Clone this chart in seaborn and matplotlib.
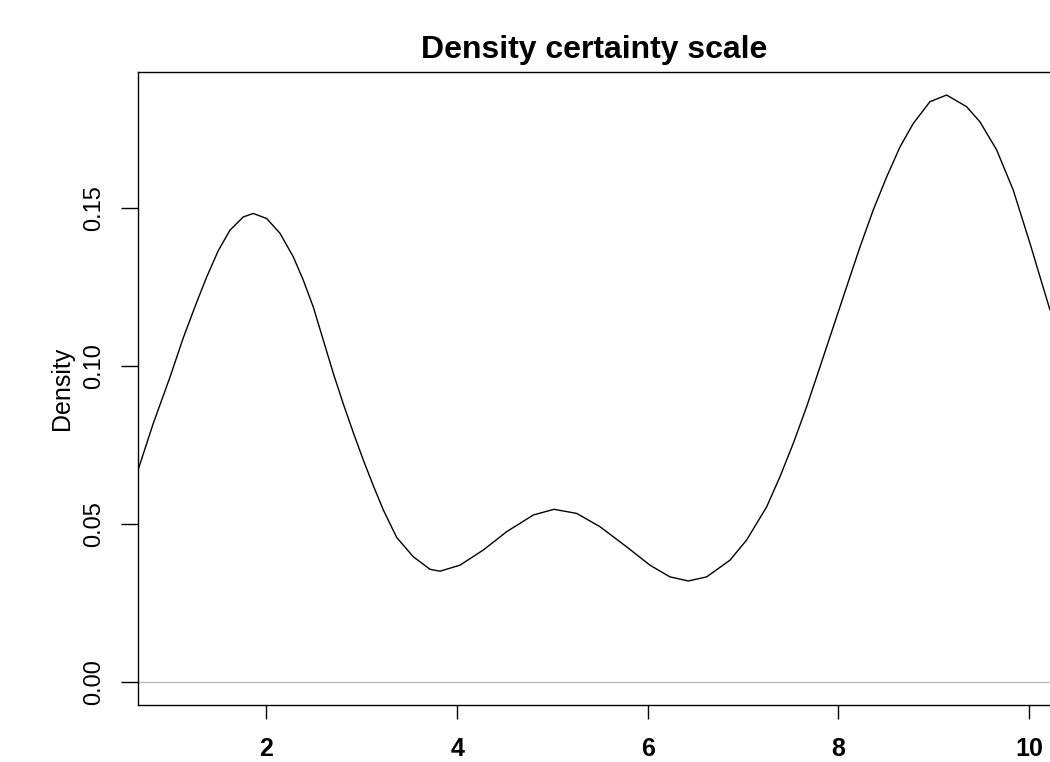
import matplotlib
matplotlib.use("Agg")
import matplotlib.pyplot as plt
import seaborn as sns
import pandas as pd

# Curve (x = certainty scale value, y = density)
curve_x = [0.652, 0.812, 0.987, 1.127, 1.268, 1.373, 1.494, 1.617, 1.757, 1.861,
           2.002, 2.142, 2.281, 2.386, 2.491, 2.596, 2.701, 2.806, 2.911, 3.016,
           3.121, 3.226, 3.366, 3.540, 3.716, 3.821, 4.030, 4.275, 4.520, 4.800,
           5.017, 5.255, 5.499, 5.780, 6.024, 6.234, 6.426, 6.619, 6.864, 7.039,
           7.249, 7.388, 7.528, 7.668, 7.808, 7.948, 8.088, 8.228, 8.367, 8.508,
           8.648, 8.787, 8.962, 9.137, 9.347, 9.487, 9.662, 9.836, 10.012, 10.117,
           10.222]
curve_y = [0.0671, 0.0819, 0.0965, 0.1090, 0.1203, 0.1283, 0.1366, 0.1431, 0.1473, 0.1484,
           0.1468, 0.1421, 0.1347, 0.1273, 0.1188, 0.1083, 0.0978, 0.0881, 0.0790, 0.0703,
           0.0622, 0.0545, 0.0458, 0.0397, 0.0357, 0.0351, 0.0370, 0.0418, 0.0476, 0.0529,
           0.0547, 0.0534, 0.0492, 0.0428, 0.0370, 0.0333, 0.0320, 0.0333, 0.0386, 0.0450,
           0.0555, 0.0650, 0.0756, 0.0872, 0.0998, 0.1125, 0.1252, 0.1378, 0.1495, 0.1600,
           0.1695, 0.1769, 0.1838, 0.1859, 0.1822, 0.1774, 0.1685, 0.1558, 0.1389, 0.1283,
           0.1178]

x_ticks = [2, 4, 6, 8, 10]
x_tick_labels = ["2", "4", "6", "8", "10"]
y_ticks = [0.00, 0.05, 0.10, 0.15]
y_tick_labels = ["0.00", "0.05", "0.10", "0.15"]
title_text = "Density certainty scale"
y_label_text = "Density"

df = pd.DataFrame({"x": curve_x, "density": curve_y})

sns.set_theme(style="white")
plt.rcParams["font.family"] = ["Liberation Sans", "DejaVu Sans"]
plt.rcParams.update({
    "text.color": "black",
    "axes.labelcolor": "black",
    "xtick.color": "black",
    "ytick.color": "black",
    "axes.edgecolor": "black",
})

fig = plt.figure(figsize=(10.5, 7.62), dpi=100)
W, H = 1050, 762
ax = fig.add_axes([138 / W, (H - 705) / H, 929 / W, 633 / H])

ax.axhline(0, color="#BEBEBE", lw=1.0, zorder=1)
sns.lineplot(data=df, x="x", y="density", ax=ax, color="black", lw=1.0,
             estimator=None, zorder=3, solid_joinstyle="round")

ax.set_xlim(0.652, 10.4)
ax.set_ylim(-0.00728, 0.1932)

for s in ax.spines.values():
    s.set_color("black")
    s.set_linewidth(1.0)
    s.set_visible(True)

ax.set_xticks(x_ticks)
ax.set_xticklabels(x_tick_labels, fontsize=18, fontweight="bold",
                   family=["Liberation Sans", "DejaVu Sans"])
ax.set_yticks(y_ticks)
ax.set_yticklabels(y_tick_labels, fontsize=17, rotation=90, va="center",
                   family=["Liberation Sans", "DejaVu Sans"])
ax.tick_params(axis="x", length=10, width=1.0, pad=13, colors="black", bottom=True)
ax.tick_params(axis="y", length=12, width=1.0, pad=12, colors="black", left=True)

ax.set_xlabel("")
ax.set_ylabel(y_label_text, fontsize=18, va="center",
              family=["Liberation Sans", "DejaVu Sans"])
ax.yaxis.set_label_coords((62 - 138) / 929, 0.5)

ax.set_title(title_text, fontsize=23, fontweight="bold", x=(594 - 138) / 929,
             y=(705 - 66) / 633, va="baseline", color="black",
             family=["Liberation Sans", "DejaVu Sans"])

ax.grid(False)
fig.savefig("out.png", dpi=100, facecolor="white")
